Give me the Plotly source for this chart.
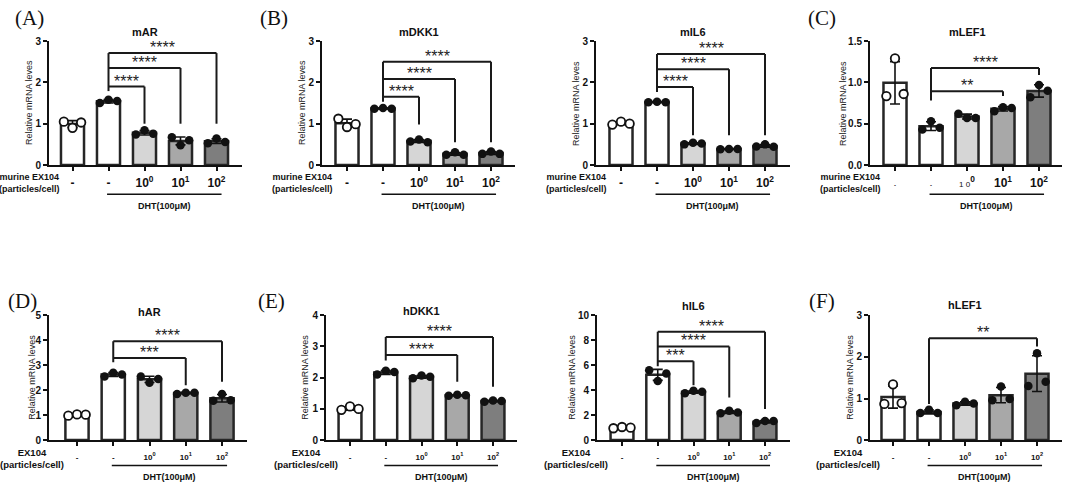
import numpy as np
import plotly.graph_objects as go

W, H = 1065, 491

# ---------------- data ----------------
groups = ["Vehicle", "DHT", "DHT+10^0", "DHT+10^1", "DHT+10^2"]
tick_labels = ["-", "-", "10<sup>0</sup>", "10<sup>1</sup>", "10<sup>2</sup>"]
tick_labels_c = ["<span style='font-size:6px'>-</span>", "<span style='font-size:6px'>-</span>",
                 "<span style='font-size:8px;font-weight:normal'>1 0</span><sup>0</sup>",
                 "10<sup>1</sup>", "10<sup>2</sup>"]

mAR_pts   = [[1.05, 0.90, 1.03], [1.50, 1.58, 1.55], [0.74, 0.84, 0.76], [0.67, 0.48, 0.60], [0.53, 0.64, 0.56]]
mDKK1_pts = [[1.12, 0.92, 0.99], [1.36, 1.38, 1.36], [0.57, 0.62, 0.55], [0.25, 0.31, 0.25], [0.27, 0.33, 0.27]]
mIL6_pts  = [[0.98, 1.05, 1.00], [1.52, 1.53, 1.52], [0.50, 0.54, 0.52], [0.38, 0.39, 0.39], [0.45, 0.50, 0.44]]
mLEF1_pts = [[0.835, 1.29, 0.86], [0.43, 0.53, 0.45], [0.62, 0.57, 0.57], [0.65, 0.70, 0.69], [0.82, 0.97, 0.90]]
hAR_pts   = [[0.98, 1.03, 1.02], [2.55, 2.70, 2.63], [2.55, 2.30, 2.45], [1.85, 1.90, 1.90], [1.58, 1.85, 1.60]]
hDKK1_pts = [[0.97, 1.08, 1.00], [2.10, 2.22, 2.18], [1.98, 2.07, 2.03], [1.42, 1.45, 1.44], [1.23, 1.27, 1.25]]
hIL6_pts  = [[0.95, 1.05, 1.00], [5.60, 4.74, 5.34], [3.76, 3.95, 3.87], [2.15, 2.35, 2.22], [1.37, 1.53, 1.53]]
hLEF1_pts = [[0.87, 1.34, 0.89], [0.65, 0.73, 0.65], [0.84, 0.92, 0.88], [0.96, 1.29, 0.99], [1.30, 2.09, 1.40]]

# significance brackets: (from group, to group, bracket level, label, right-leg bottom)
mAR_sig   = [(1, 2, 1.90, "****", 1.00), (1, 3, 2.35, "****", 1.00), (1, 4, 2.71, "****", 1.00)]
mDKK1_sig = [(1, 2, 1.65, "****", 0.98), (1, 3, 2.08, "****", 0.55), (1, 4, 2.50, "****", 0.55)]
mIL6_sig  = [(1, 2, 1.89, "****", 0.72), (1, 3, 2.32, "****", 0.72), (1, 4, 2.69, "****", 0.72)]
mLEF1_sig = [(1, 3, 0.894, "**", 0.835), (1, 4, 1.175, "****", 1.09)]
hAR_sig   = [(1, 3, 3.29, "***", 2.20), (1, 4, 3.96, "****", 2.34)]
hDKK1_sig = [(1, 3, 2.73, "****", 1.87), (1, 4, 3.30, "****", 1.71)]
hIL6_sig  = [(1, 2, 6.32, "***", 4.39), (1, 3, 7.50, "****", 3.42), (1, 4, 8.68, "****", 2.50)]
hLEF1_sig = [(1, 4, 2.45, "**", 2.25)]

# ---------------- styling / layout ----------------
bar_colors = ["#ffffff", "#ffffff", "#d6d6d6", "#a8a8a8", "#7e7e7e"]
edge = "#262626"
FONT = "Arial, Liberation Sans, sans-serif"
SERIF = "Times New Roman, Liberation Serif, serif"
jitter = [-0.24, 0.0, 0.24]

panels = [
    dict(title="mAR", pts=mAR_pts, sig=mAR_sig, lb=1.79, ymax=3, dtick=1, fmt="d", row=0,
         ax=(49, 242, 72.5, 36), ydx=20, ty=27, letter="(A)", lxy=(29, 12),
         grp="murine EX104<br>(particles/cell)", gdx=13, ticks=tick_labels),
    dict(title="mDKK1", pts=mDKK1_pts, sig=mDKK1_sig, lb=1.53, ymax=3, dtick=1, fmt="d", row=0,
         ax=(322, 515, 347, 36), ydx=20, ty=27, letter="(B)", lxy=(274, 12),
         grp="murine EX104<br>(particles/cell)", gdx=13, ticks=tick_labels),
    dict(title="mIL6", pts=mIL6_pts, sig=mIL6_sig, lb=1.77, ymax=3, dtick=1, fmt="d", row=0,
         ax=(596, 790, 621, 36), ydx=20, ty=27, letter=None, lxy=None,
         grp="murine EX104<br>(particles/cell)", gdx=13, ticks=tick_labels),
    dict(title="mLEF1", pts=mLEF1_pts, sig=mLEF1_sig, lb=0.78, ymax=1.5, dtick=0.5, fmt=".1f", row=0,
         ax=(870, 1062, 895, 36), ydx=27, ty=27, letter="(C)", lxy=(822, 12),
         grp="murine EX104<br>(particles/cell)", gdx=13, ticks=tick_labels_c),
    dict(title="hAR", pts=hAR_pts, sig=hAR_sig, lb=3.12, ymax=5, dtick=1, fmt="d", row=1,
         ax=(49, 247, 77, 36.25), ydx=17, ty=314, letter="(D)", lxy=(22, 302),
         grp="EX104<br>(particles/cell)", gdx=17, ticks=tick_labels),
    dict(title="hDKK1", pts=hDKK1_pts, sig=hDKK1_sig, lb=2.55, ymax=4, dtick=1, fmt="d", row=1,
         ax=(326, 517, 350, 35.75), ydx=21, ty=313, letter="(E)", lxy=(271, 302),
         grp="EX104<br>(particles/cell)", gdx=14, ticks=tick_labels),
    dict(title="hIL6", pts=hIL6_pts, sig=hIL6_sig, lb=5.92, ymax=10, dtick=2, fmt="d", row=1,
         ax=(597, 790, 622, 35.75), ydx=25, ty=308, letter=None, lxy=None,
         grp="EX104<br>(particles/cell)", gdx=13, ticks=tick_labels),
    dict(title="hLEF1", pts=hLEF1_pts, sig=hLEF1_sig, lb=0.87, ymax=3, dtick=1, fmt="d", row=1,
         ax=(870, 1062, 893, 36), ydx=20, ty=307, letter="(F)", lxy=(822, 302),
         grp="EX104<br>(particles/cell)", gdx=12, ticks=tick_labels),
]

ROW_Y = [(163, 36), (445, 317)]          # pixel y of value 0 and of ymax
ROW_TICK_FONT = [12, 8]
ROW_TICK_STANDOFF = [2, 4]
ROW_DHT_LINE = [193, 471]
ROW_DHT_TEXT = [205, 483]
ROW_GRP_Y = [181, 464]


def px(x):
    return x / W


def py(y):
    return 1 - y / H


fig = go.Figure()
layout = dict(width=W, height=H, margin=dict(l=0, r=0, t=0, b=0),
              paper_bgcolor="white", plot_bgcolor="rgba(0,0,0,0)",
              showlegend=False, font=dict(family=FONT, color="#111"))
shapes, annots = [], []

for i, p in enumerate(panels, start=1):
    xa = "xaxis" if i == 1 else f"xaxis{i}"
    ya = "yaxis" if i == 1 else f"yaxis{i}"
    xr = "x" if i == 1 else f"x{i}"
    yr = "y" if i == 1 else f"y{i}"
    axl, axr, b0, sp = p["ax"]
    y0, y1 = ROW_Y[p["row"]]
    pts = np.array(p["pts"], dtype=float)
    means = pts.mean(axis=1)
    sds = pts.std(axis=1, ddof=1)
    xs = np.arange(len(groups))

    fig.add_trace(go.Bar(
        x=xs, y=means, width=0.64, xaxis=xr, yaxis=yr,
        marker=dict(color=bar_colors, line=dict(color=edge, width=2.5)),
        error_y=dict(type="data", array=sds, visible=True, color="#111", thickness=1.6, width=5),
        hoverinfo="skip"))

    for g in range(len(groups)):
        open_pt = g == 0
        fig.add_trace(go.Scatter(
            x=[g + j for j in jitter], y=pts[g], mode="markers", xaxis=xr, yaxis=yr,
            marker=dict(size=8.5, color="white" if open_pt else "#111",
                        line=dict(color="#111", width=1.8 if open_pt else 0)),
            hoverinfo="skip"))

    layout[xa] = dict(domain=[px(axl), px(axr)], anchor=yr,
                      range=[(axl - b0) / sp, (axr - b0) / sp],
                      tickmode="array", tickvals=list(xs), ticktext=p["ticks"],
                      ticks="outside", ticklen=4, tickwidth=2, tickcolor="#111",
                      ticklabelstandoff=ROW_TICK_STANDOFF[p["row"]],
                      showline=True, linewidth=2, linecolor="#111",
                      showgrid=False, zeroline=False, fixedrange=True,
                      tickfont=dict(size=ROW_TICK_FONT[p["row"]], family=FONT, weight="bold", color="#111"))
    layout[ya] = dict(domain=[py(y0), py(y1)], anchor=xr, range=[0, p["ymax"]],
                      dtick=p["dtick"], tick0=0, tickformat=p["fmt"],
                      ticks="outside", ticklen=4, tickwidth=2, tickcolor="#111",
                      showline=True, linewidth=2, linecolor="#111",
                      showgrid=False, zeroline=False, fixedrange=True,
                      tickfont=dict(size=10, family=FONT, weight="bold", color="#111"))

    # significance brackets
    lw = dict(color="#1a1a1a", width=2)
    top_level = max(s[2] for s in p["sig"])
    shapes.append(dict(type="line", xref=xr, yref=yr, x0=p["sig"][0][0], x1=p["sig"][0][0],
                       y0=p["lb"], y1=top_level, line=lw))
    for (a, b, lev, lab, rb) in p["sig"]:
        shapes.append(dict(type="line", xref=xr, yref=yr, x0=a, x1=b, y0=lev, y1=lev, line=lw))
        shapes.append(dict(type="line", xref=xr, yref=yr, x0=b, x1=b, y0=rb, y1=lev, line=lw))
        annots.append(dict(xref=xr, yref=yr, x=(a + b) / 2, y=lev, text=lab, showarrow=False,
                           yanchor="bottom", yshift=-5, font=dict(size=16, family=FONT, color="#222")))

    # title
    annots.append(dict(xref=xr, yref="paper", x=2, y=py(p["ty"]), text="<b>%s</b>" % p["title"],
                       showarrow=False, yanchor="middle", font=dict(size=11, family=FONT, color="#111")))
    # y-axis title
    annots.append(dict(xref="paper", yref="paper", x=px(axl - p["ydx"]), y=py((y0 + y1) / 2),
                       text="Relative mRNA leves", textangle=-90, showarrow=False,
                       xanchor="center", yanchor="middle", font=dict(size=9, family=FONT, color="#222")))
    # group label
    annots.append(dict(xref="paper", yref="paper", x=px(axl + p["gdx"]), y=py(ROW_GRP_Y[p["row"]]),
                       text="<b>%s</b>" % p["grp"], showarrow=False, align="center",
                       xanchor="right", yanchor="middle",
                       font=dict(size=9 if p["row"] == 0 else 9.5, family=FONT, color="#111")))
    # DHT line + text
    shapes.append(dict(type="line", xref=xr, yref="paper", x0=0.96, x1=4.14,
                       y0=py(ROW_DHT_LINE[p["row"]]), y1=py(ROW_DHT_LINE[p["row"]]),
                       line=dict(color="#111", width=1.5)))
    annots.append(dict(xref=xr, yref="paper", x=2.55, y=py(ROW_DHT_TEXT[p["row"]]),
                       text="<b>DHT(100μM)</b>", showarrow=False, yanchor="middle",
                       font=dict(size=9, family=FONT, color="#111")))
    # panel letter
    if p["letter"]:
        annots.append(dict(xref="paper", yref="paper", x=px(p["lxy"][0]), y=py(p["lxy"][1]),
                           text=p["letter"], showarrow=False, xanchor="center", yanchor="middle",
                           font=dict(size=21, family=SERIF, color="#111")))

layout["shapes"] = shapes
layout["annotations"] = annots
fig.update_layout(**layout)
fig.write_html("out.html", config={"displayModeBar": False},
               post_script="document.body.style.margin='0';document.body.style.overflow='hidden';")
